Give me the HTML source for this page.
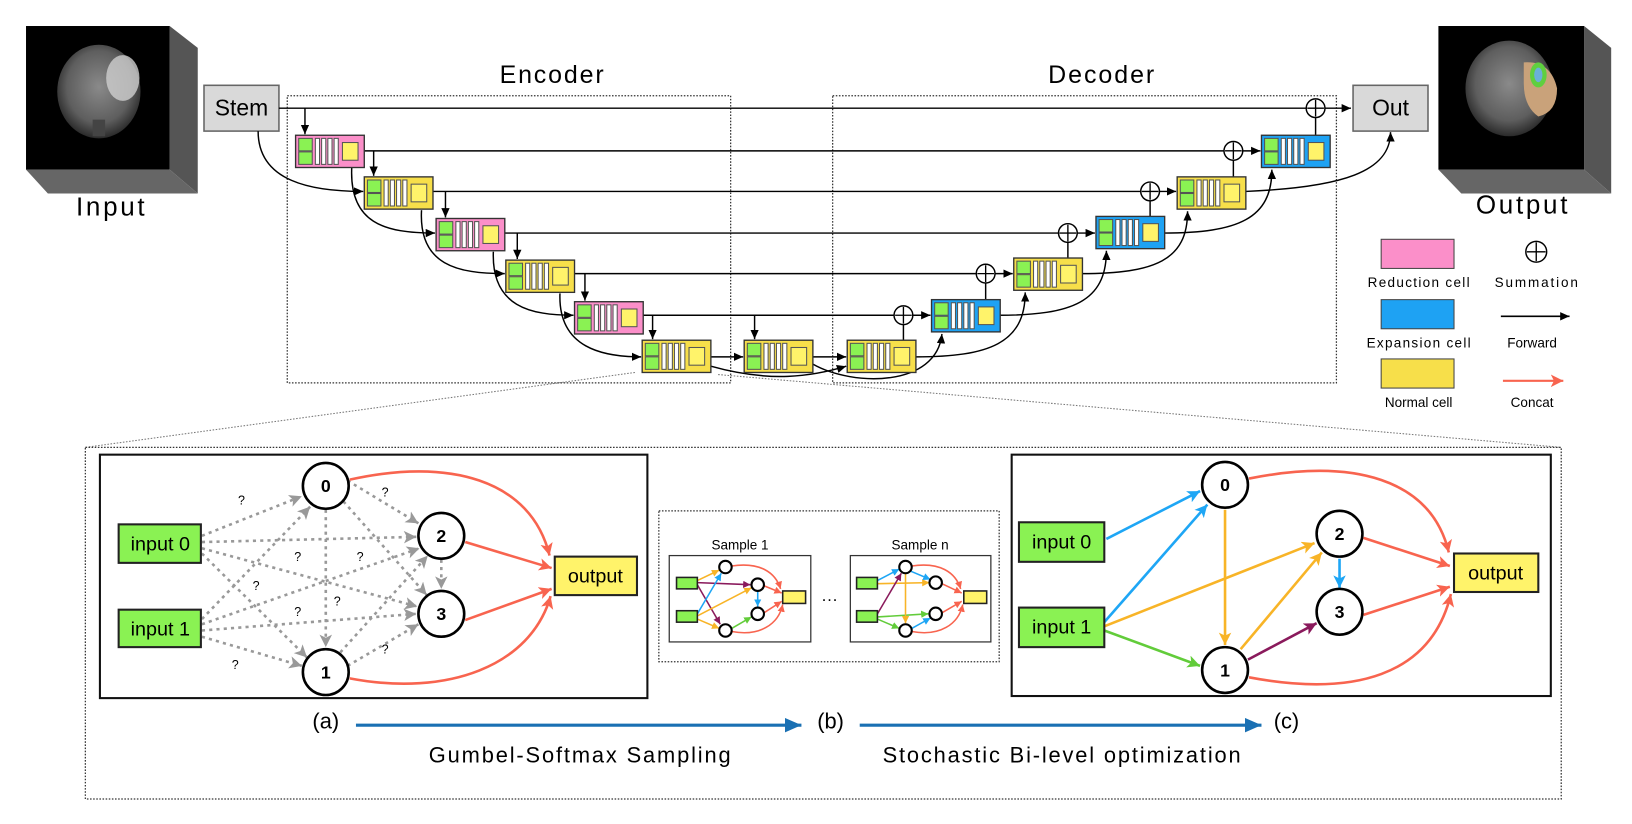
<!DOCTYPE html>
<html><head><meta charset="utf-8"><style>
html,body{margin:0;padding:0;background:#fff;}
svg{display:block;}
text{font-family:"Liberation Sans","DejaVu Sans",sans-serif;}
</style></head><body>
<svg width="1632" height="824" viewBox="0 0 1568 792" preserveAspectRatio="none" xmlns="http://www.w3.org/2000/svg">
<defs>
<marker id="mk" markerUnits="userSpaceOnUse" markerWidth="10" markerHeight="10" refX="9" refY="4" orient="auto"><path d="M0,0 L9,4 L0,8 z" fill="#000"/></marker>
<marker id="mr" markerUnits="userSpaceOnUse" markerWidth="14" markerHeight="14" refX="12" refY="6" orient="auto"><path d="M0,0 L12,6 L0,12 L3,6 z" fill="#f8644f"/></marker>
<marker id="mg" markerUnits="userSpaceOnUse" markerWidth="14" markerHeight="14" refX="12" refY="6" orient="auto"><path d="M0,0 L12,6 L0,12 L3,6 z" fill="#999"/></marker>
<marker id="mb" markerUnits="userSpaceOnUse" markerWidth="14" markerHeight="14" refX="12" refY="6" orient="auto"><path d="M0,0 L12,6 L0,12 L3,6 z" fill="#1ea6f5"/></marker>
<marker id="mo" markerUnits="userSpaceOnUse" markerWidth="14" markerHeight="14" refX="12" refY="6" orient="auto"><path d="M0,0 L12,6 L0,12 L3,6 z" fill="#f8b427"/></marker>
<marker id="mgr" markerUnits="userSpaceOnUse" markerWidth="14" markerHeight="14" refX="12" refY="6" orient="auto"><path d="M0,0 L12,6 L0,12 L3,6 z" fill="#62cc3a"/></marker>
<marker id="mp" markerUnits="userSpaceOnUse" markerWidth="14" markerHeight="14" refX="12" refY="6" orient="auto"><path d="M0,0 L12,6 L0,12 L3,6 z" fill="#8a1a5c"/></marker>
<marker id="ms" markerUnits="userSpaceOnUse" markerWidth="8" markerHeight="8" refX="7" refY="3.5" orient="auto"><path d="M0,0 L7,3.5 L0,7 z" fill="context-stroke"/></marker>
<marker id="mbig" markerUnits="userSpaceOnUse" markerWidth="20" markerHeight="20" refX="16" refY="7" orient="auto"><path d="M0,0 L16,7 L0,14 z" fill="#1a70b3"/></marker>
<g id="ci">
<rect x="3" y="3" width="13" height="12" fill="#8af253" stroke="#555" stroke-width="1"/>
<rect x="3" y="16" width="13" height="12" fill="#8af253" stroke="#555" stroke-width="1"/>
<rect x="19" y="3" width="4" height="25" fill="#fff" stroke="#555" stroke-width="1"/>
<rect x="25" y="3" width="4" height="25" fill="#fff" stroke="#555" stroke-width="1"/>
<rect x="31" y="3" width="4" height="25" fill="#fff" stroke="#555" stroke-width="1"/>
<rect x="37" y="3" width="4" height="25" fill="#fff" stroke="#555" stroke-width="1"/>
<rect x="45" y="7" width="15" height="17" fill="#fff36a" stroke="#555" stroke-width="1"/>
</g>
<radialGradient id="brain" cx="0.5" cy="0.45" r="0.55"><stop offset="0" stop-color="#8a8a8a"/><stop offset="0.7" stop-color="#5e5e5e"/><stop offset="1" stop-color="#2a2a2a"/></radialGradient>
</defs>

<!-- Input image -->
<polygon points="163,25 190,46 190,186 163,163" fill="#555"/>
<polygon points="25,163 163,163 190,186 46,186" fill="#666"/>
<rect x="25" y="25" width="138" height="138" fill="#000"/>
<ellipse cx="95" cy="88" rx="40" ry="45" fill="url(#brain)"/>
<ellipse cx="118" cy="75" rx="16" ry="22" fill="#cfcfcf" opacity="0.8"/>
<rect x="89" y="115" width="12" height="16" fill="#444"/>
<text x="106" y="207" font-size="25" text-anchor="middle" textLength="66">Input</text>

<!-- Output image -->
<polygon points="1522,25 1548,46 1548,186 1522,163" fill="#555"/>
<polygon points="1382,163 1522,163 1548,186 1404,186" fill="#666"/>
<rect x="1382" y="25" width="140" height="138" fill="#000"/>
<ellipse cx="1450" cy="85" rx="42" ry="46" fill="url(#brain)"/>
<path d="M1464,60 Q1490,58 1496,85 Q1496,108 1478,112 Q1464,102 1464,80 z" fill="#c9a27a"/>
<ellipse cx="1478" cy="72" rx="8" ry="12" fill="#5fcf3f"/>
<ellipse cx="1478" cy="72" rx="4" ry="7" fill="#6ab0d8"/>
<text x="1462" y="205" font-size="25" text-anchor="middle" textLength="88">Output</text>

<!-- Dotted boxes -->
<rect x="276" y="92" width="426" height="276" fill="none" stroke="#333" stroke-width="1.2" stroke-dasharray="1.5,1.5"/>
<rect x="800" y="92" width="484" height="276" fill="none" stroke="#333" stroke-width="1.2" stroke-dasharray="1.5,1.5"/>
<text x="530" y="80" font-size="24" text-anchor="middle" textLength="100">Encoder</text>
<text x="1058" y="80" font-size="24" text-anchor="middle" textLength="102">Decoder</text>

<!-- Stem / Out -->
<rect x="196" y="82" width="72" height="44" fill="#d9d9d9" stroke="#666" stroke-width="1.5"/>
<text x="232" y="111" font-size="22" text-anchor="middle">Stem</text>
<rect x="1300" y="82" width="72" height="44" fill="#d9d9d9" stroke="#666" stroke-width="1.5"/>
<text x="1336" y="111" font-size="22" text-anchor="middle">Out</text>

<!-- skip lines -->
<g stroke="#000" stroke-width="1.4" fill="none">
<line x1="268" y1="104" x2="1255" y2="104"/>
<line x1="1273" y1="104" x2="1298" y2="104" marker-end="url(#mk)"/>
<line x1="349" y1="145" x2="1176" y2="145"/>
<line x1="1194" y1="145" x2="1211" y2="145" marker-end="url(#mk)"/>
<line x1="416" y1="184" x2="1096" y2="184"/>
<line x1="1114" y1="184" x2="1130" y2="184" marker-end="url(#mk)"/>
<line x1="485" y1="224" x2="1017" y2="224"/>
<line x1="1035" y1="224" x2="1052" y2="224" marker-end="url(#mk)"/>
<line x1="551" y1="263" x2="938" y2="263"/>
<line x1="956" y1="263" x2="973" y2="263" marker-end="url(#mk)"/>
<line x1="617" y1="303" x2="859" y2="303"/>
<line x1="877" y1="303" x2="894" y2="303" marker-end="url(#mk)"/>
<line x1="683" y1="343" x2="714" y2="343" marker-end="url(#mk)"/>
<line x1="781" y1="343" x2="813" y2="343" marker-end="url(#mk)"/>
<line x1="293" y1="104" x2="293" y2="129" marker-end="url(#mk)"/>
<line x1="359" y1="145" x2="359" y2="169" marker-end="url(#mk)"/>
<line x1="428" y1="184" x2="428" y2="209" marker-end="url(#mk)"/>
<line x1="497" y1="224" x2="497" y2="249" marker-end="url(#mk)"/>
<line x1="562" y1="263" x2="562" y2="289" marker-end="url(#mk)"/>
<line x1="627" y1="303" x2="627" y2="326" marker-end="url(#mk)"/>
<line x1="725" y1="303" x2="725" y2="326" marker-end="url(#mk)"/>
<line x1="1264" y1="113" x2="1264" y2="130"/>
<line x1="1185" y1="154" x2="1185" y2="170"/>
<line x1="1105" y1="193" x2="1105" y2="208"/>
<line x1="1026" y1="233" x2="1026" y2="248"/>
<line x1="947" y1="272" x2="947" y2="288"/>
<line x1="868" y1="312" x2="868" y2="327"/>
<path d="M248,126 C248,175 300,184 349,184" marker-end="url(#mk)"/>
<path d="M338,160 C335,215 370,224 418,224" marker-end="url(#mk)"/>
<path d="M405,202 C402,255 440,263 485,263" marker-end="url(#mk)"/>
<path d="M474,242 C472,295 510,303 551,303" marker-end="url(#mk)"/>
<path d="M538,282 C536,335 580,343 616,343" marker-end="url(#mk)"/>
<path d="M683,352 C740,368 780,362 813,352" marker-end="url(#mk)"/>
<path d="M781,350 C820,372 900,372 905,321" marker-end="url(#mk)"/>
<path d="M880,343 C950,343 985,330 985,281" marker-end="url(#mk)"/>
<path d="M960,303 C1030,303 1063,290 1063,241" marker-end="url(#mk)"/>
<path d="M1039,263 C1110,263 1141,250 1141,203" marker-end="url(#mk)"/>
<path d="M1118,224 C1190,224 1222,210 1222,163" marker-end="url(#mk)"/>
<path d="M1197,184 C1290,180 1336,165 1336,127" marker-end="url(#mk)"/>
</g>
<g fill="#fff" stroke="#000" stroke-width="1.4">
<circle cx="1264" cy="104" r="9"/><circle cx="1185" cy="145" r="9"/><circle cx="1105" cy="184" r="9"/>
<circle cx="1026" cy="224" r="9"/><circle cx="947" cy="263" r="9"/><circle cx="868" cy="303" r="9"/>
</g>
<g stroke="#000" stroke-width="1.3">
<path d="M1264,96v16M1256,104h16"/><path d="M1185,137v16M1177,145h16"/><path d="M1105,176v16M1097,184h16"/>
<path d="M1026,216v16M1018,224h16"/><path d="M947,255v16M939,263h16"/><path d="M868,295v16M860,303h16"/>
</g>

<g stroke="#333" stroke-width="1.3">
<g transform="translate(284,130)"><rect width="66" height="31" fill="#fb8fc9"/><use href="#ci"/></g>
<g transform="translate(350,170)"><rect width="66" height="31" fill="#f7df4a"/><use href="#ci"/></g>
<g transform="translate(419,210)"><rect width="66" height="31" fill="#fb8fc9"/><use href="#ci"/></g>
<g transform="translate(486,250)"><rect width="66" height="31" fill="#f7df4a"/><use href="#ci"/></g>
<g transform="translate(552,290)"><rect width="66" height="31" fill="#fb8fc9"/><use href="#ci"/></g>
<g transform="translate(617,327)"><rect width="66" height="31" fill="#f7df4a"/><use href="#ci"/></g>
<g transform="translate(715,327)"><rect width="66" height="31" fill="#f7df4a"/><use href="#ci"/></g>
<g transform="translate(814,327)"><rect width="66" height="31" fill="#f7df4a"/><use href="#ci"/></g>
<g transform="translate(895,288)"><rect width="66" height="31" fill="#1ea2f3"/><use href="#ci"/></g>
<g transform="translate(974,248)"><rect width="66" height="31" fill="#f7df4a"/><use href="#ci"/></g>
<g transform="translate(1053,208)"><rect width="66" height="31" fill="#1ea2f3"/><use href="#ci"/></g>
<g transform="translate(1131,170)"><rect width="66" height="31" fill="#f7df4a"/><use href="#ci"/></g>
<g transform="translate(1212,130)"><rect width="66" height="31" fill="#1ea2f3"/><use href="#ci"/></g>
</g>

<!-- Legend -->
<rect x="1327" y="230" width="70" height="28" fill="#fb8fc9" stroke="#444"/>
<text x="1363" y="276" font-size="13" text-anchor="middle" textLength="98">Reduction cell</text>
<rect x="1327" y="288" width="70" height="28" fill="#1ea2f3" stroke="#444"/>
<text x="1363" y="334" font-size="13" text-anchor="middle" textLength="100">Expansion cell</text>
<rect x="1327" y="345" width="70" height="28" fill="#f7df4a" stroke="#444"/>
<text x="1363" y="391" font-size="13" text-anchor="middle">Normal cell</text>
<circle cx="1476" cy="242" r="10" fill="#fff" stroke="#000" stroke-width="1.4"/>
<path d="M1476,233v18M1467,242h18" stroke="#000" stroke-width="1.3"/>
<text x="1476" y="276" font-size="13" text-anchor="middle" textLength="80">Summation</text>
<line x1="1442" y1="304" x2="1508" y2="304" stroke="#000" stroke-width="1.5" marker-end="url(#mk)"/>
<text x="1472" y="334" font-size="13" text-anchor="middle">Forward</text>
<line x1="1444" y1="366" x2="1502" y2="366" stroke="#f8644f" stroke-width="2" marker-end="url(#mr)"/>
<text x="1472" y="391" font-size="13" text-anchor="middle">Concat</text>

<line x1="610" y1="358" x2="82" y2="430" stroke="#777" stroke-width="1" stroke-dasharray="1.5,1.5"/>
<line x1="690" y1="360" x2="1500" y2="430" stroke="#777" stroke-width="1" stroke-dasharray="1.5,1.5"/>

<rect x="82" y="430" width="1418" height="338" fill="none" stroke="#333" stroke-width="1.2" stroke-dasharray="1.5,1.5"/>

<!-- Panel a -->
<rect x="96" y="437" width="526" height="234" fill="none" stroke="#111" stroke-width="2"/>
<g stroke="#999" stroke-width="2.5" stroke-dasharray="3,4" fill="none" marker-end="url(#mg)">
<line x1="194" y1="515" x2="290" y2="477"/>
<line x1="194" y1="521" x2="400" y2="516"/>
<line x1="194" y1="527" x2="401" y2="583"/>
<line x1="194" y1="532" x2="295" y2="632"/>
<line x1="194" y1="595" x2="298" y2="487"/>
<line x1="194" y1="600" x2="403" y2="527"/>
<line x1="194" y1="606" x2="400" y2="590"/>
<line x1="194" y1="612" x2="290" y2="640"/>
<line x1="313" y1="490" x2="313" y2="622"/>
<line x1="330" y1="482" x2="410" y2="572"/>
<line x1="334" y1="462" x2="402" y2="503"/>
<line x1="327" y1="627" x2="411" y2="534"/>
<line x1="334" y1="640" x2="402" y2="600"/>
<line x1="424" y1="538" x2="424" y2="566"/>
</g>
<g stroke="#f8644f" stroke-width="2.5" fill="none" marker-end="url(#mr)">
<path d="M336,461 C430,440 510,460 528,534"/>
<line x1="447" y1="521" x2="530" y2="546"/>
<line x1="447" y1="596" x2="530" y2="566"/>
<path d="M336,652 C430,670 510,640 529,573"/>
</g>
<g font-size="12" text-anchor="middle">
<text x="232" y="485">?</text><text x="370" y="477">?</text><text x="286" y="539">?</text><text x="346" y="539">?</text>
<text x="246" y="567">?</text><text x="324" y="582">?</text><text x="286" y="592">?</text><text x="370" y="628">?</text><text x="226" y="643">?</text>
</g>
<g fill="#fff" stroke="#000" stroke-width="2.5">
<circle cx="313" cy="467" r="22"/><circle cx="424" cy="515" r="22"/><circle cx="424" cy="590" r="22"/><circle cx="313" cy="646" r="22"/>
</g>
<g font-size="17" font-weight="bold" text-anchor="middle">
<text x="313" y="473">0</text><text x="424" y="521">2</text><text x="424" y="596">3</text><text x="313" y="652">1</text>
</g>
<rect x="114" y="504" width="79" height="37" fill="#8af253" stroke="#222" stroke-width="2"/>
<text x="154" y="529" font-size="19" text-anchor="middle">input 0</text>
<rect x="114" y="586" width="79" height="36" fill="#8af253" stroke="#222" stroke-width="2"/>
<text x="154" y="611" font-size="19" text-anchor="middle">input 1</text>
<rect x="533" y="535" width="79" height="37" fill="#fff36a" stroke="#222" stroke-width="2"/>
<text x="572" y="560" font-size="19" text-anchor="middle">output</text>

<!-- Panel b -->
<rect x="633" y="491" width="327" height="145" fill="none" stroke="#333" stroke-width="1.2" stroke-dasharray="1.5,1.5"/>
<text x="711" y="528" font-size="13" text-anchor="middle">Sample 1</text>
<text x="884" y="528" font-size="13" text-anchor="middle">Sample n</text>
<text x="797" y="581" font-size="16" text-anchor="middle">···</text>
<rect x="643" y="534" width="136" height="83" fill="none" stroke="#333" stroke-width="1.2"/>
<rect x="817" y="534" width="135" height="83" fill="none" stroke="#333" stroke-width="1.2"/>
<g fill="none" stroke-width="1.5">
<line x1="670" y1="558" x2="691" y2="548" stroke="#f8b427" marker-end="url(#ms)"/>
<line x1="670" y1="560" x2="721" y2="562" stroke="#8a1a5c" marker-end="url(#ms)"/>
<line x1="670" y1="562" x2="692" y2="600" stroke="#8a1a5c" marker-end="url(#ms)"/>
<line x1="670" y1="590" x2="693" y2="551" stroke="#1ea6f5" marker-end="url(#ms)"/>
<line x1="670" y1="592" x2="722" y2="565" stroke="#f8b427" marker-end="url(#ms)"/>
<line x1="670" y1="595" x2="691" y2="604" stroke="#f8b427" marker-end="url(#ms)"/>
<line x1="728" y1="568" x2="728" y2="583" stroke="#1ea6f5" marker-end="url(#ms)"/>
<line x1="703" y1="604" x2="722" y2="593" stroke="#62cc3a" marker-end="url(#ms)"/>
<path d="M703,544 C730,540 745,550 750,566" stroke="#f8644f" marker-end="url(#ms)"/>
<line x1="734" y1="563" x2="751" y2="570" stroke="#f8644f" marker-end="url(#ms)"/>
<line x1="734" y1="589" x2="751" y2="578" stroke="#f8644f" marker-end="url(#ms)"/>
<path d="M703,607 C730,612 748,600 752,581" stroke="#f8644f" marker-end="url(#ms)"/>
<line x1="843" y1="558" x2="864" y2="547" stroke="#1ea6f5" marker-end="url(#ms)"/>
<line x1="843" y1="561" x2="893" y2="560" stroke="#f8b427" marker-end="url(#ms)"/>
<line x1="843" y1="590" x2="866" y2="551" stroke="#8a1a5c" marker-end="url(#ms)"/>
<line x1="843" y1="593" x2="892" y2="590" stroke="#62cc3a" marker-end="url(#ms)"/>
<line x1="843" y1="595" x2="864" y2="604" stroke="#62cc3a" marker-end="url(#ms)"/>
<line x1="870" y1="551" x2="870" y2="599" stroke="#f8b427" marker-end="url(#ms)"/>
<line x1="875" y1="549" x2="894" y2="557" stroke="#1ea6f5" marker-end="url(#ms)"/>
<line x1="876" y1="604" x2="894" y2="594" stroke="#1ea6f5" marker-end="url(#ms)"/>
<path d="M876,544 C903,540 918,550 923,566" stroke="#f8644f" marker-end="url(#ms)"/>
<line x1="905" y1="561" x2="924" y2="570" stroke="#f8644f" marker-end="url(#ms)"/>
<line x1="905" y1="589" x2="924" y2="578" stroke="#f8644f" marker-end="url(#ms)"/>
<path d="M876,607 C903,612 921,600 925,581" stroke="#f8644f" marker-end="url(#ms)"/>
</g>
<g fill="#fff" stroke="#000" stroke-width="2">
<circle cx="697" cy="545" r="6"/><circle cx="728" cy="562" r="6"/><circle cx="728" cy="590" r="6"/><circle cx="697" cy="606" r="6"/>
<circle cx="870" cy="545" r="6"/><circle cx="899" cy="560" r="6"/><circle cx="899" cy="590" r="6"/><circle cx="870" cy="606" r="6"/>
</g>
<g stroke="#222" stroke-width="1.5">
<rect x="650" y="555" width="20" height="11" fill="#8af253"/><rect x="650" y="587" width="20" height="11" fill="#8af253"/>
<rect x="752" y="568" width="22" height="12" fill="#fff36a"/>
<rect x="823" y="555" width="20" height="11" fill="#8af253"/><rect x="823" y="587" width="20" height="11" fill="#8af253"/>
<rect x="926" y="568" width="22" height="12" fill="#fff36a"/>
</g>

<!-- Panel c -->
<rect x="972" y="437" width="518" height="232" fill="none" stroke="#111" stroke-width="2"/>
<g stroke-width="2.5" fill="none">
<line x1="1063" y1="518" x2="1153" y2="472" stroke="#1ea6f5" marker-end="url(#mb)"/>
<line x1="1061" y1="598" x2="1160" y2="485" stroke="#1ea6f5" marker-end="url(#mb)"/>
<line x1="1061" y1="602" x2="1263" y2="522" stroke="#f8b427" marker-end="url(#mo)"/>
<line x1="1061" y1="606" x2="1153" y2="640" stroke="#62cc3a" marker-end="url(#mgr)"/>
<line x1="1177" y1="490" x2="1177" y2="620" stroke="#f8b427" marker-end="url(#mo)"/>
<line x1="1192" y1="624" x2="1270" y2="531" stroke="#f8b427" marker-end="url(#mo)"/>
<line x1="1199" y1="634" x2="1265" y2="599" stroke="#8a1a5c" marker-end="url(#mp)"/>
<line x1="1287" y1="537" x2="1287" y2="565" stroke="#1ea6f5" marker-end="url(#mb)"/>
<path d="M1200,460 C1300,440 1375,460 1392,531" stroke="#f8644f" marker-end="url(#mr)"/>
<line x1="1310" y1="517" x2="1393" y2="544" stroke="#f8644f" marker-end="url(#mr)"/>
<line x1="1310" y1="591" x2="1393" y2="564" stroke="#f8644f" marker-end="url(#mr)"/>
<path d="M1200,651 C1300,670 1375,650 1394,571" stroke="#f8644f" marker-end="url(#mr)"/>
</g>
<g fill="#fff" stroke="#000" stroke-width="2.5">
<circle cx="1177" cy="466" r="22"/><circle cx="1287" cy="513" r="22"/><circle cx="1287" cy="588" r="22"/><circle cx="1177" cy="644" r="22"/>
</g>
<g font-size="17" font-weight="bold" text-anchor="middle">
<text x="1177" y="472">0</text><text x="1287" y="519">2</text><text x="1287" y="594">3</text><text x="1177" y="650">1</text>
</g>
<rect x="979" y="502" width="82" height="38" fill="#8af253" stroke="#222" stroke-width="2"/>
<text x="1020" y="527" font-size="19" text-anchor="middle">input 0</text>
<rect x="979" y="584" width="82" height="38" fill="#8af253" stroke="#222" stroke-width="2"/>
<text x="1020" y="609" font-size="19" text-anchor="middle">input 1</text>
<rect x="1397" y="532" width="81" height="37" fill="#fff36a" stroke="#222" stroke-width="2"/>
<text x="1437" y="557" font-size="19" text-anchor="middle">output</text>

<text x="313" y="700" font-size="21" text-anchor="middle">(a)</text>
<text x="798" y="700" font-size="21" text-anchor="middle">(b)</text>
<text x="1236" y="700" font-size="21" text-anchor="middle">(c)</text>
<line x1="342" y1="697" x2="770" y2="697" stroke="#1a70b3" stroke-width="3" marker-end="url(#mbig)"/>
<line x1="826" y1="697" x2="1212" y2="697" stroke="#1a70b3" stroke-width="3" marker-end="url(#mbig)"/>
<text x="557" y="733" font-size="21" text-anchor="middle" textLength="290">Gumbel-Softmax Sampling</text>
<text x="1020" y="733" font-size="21" text-anchor="middle" textLength="344">Stochastic Bi-level optimization</text>
</svg>
</body></html>
